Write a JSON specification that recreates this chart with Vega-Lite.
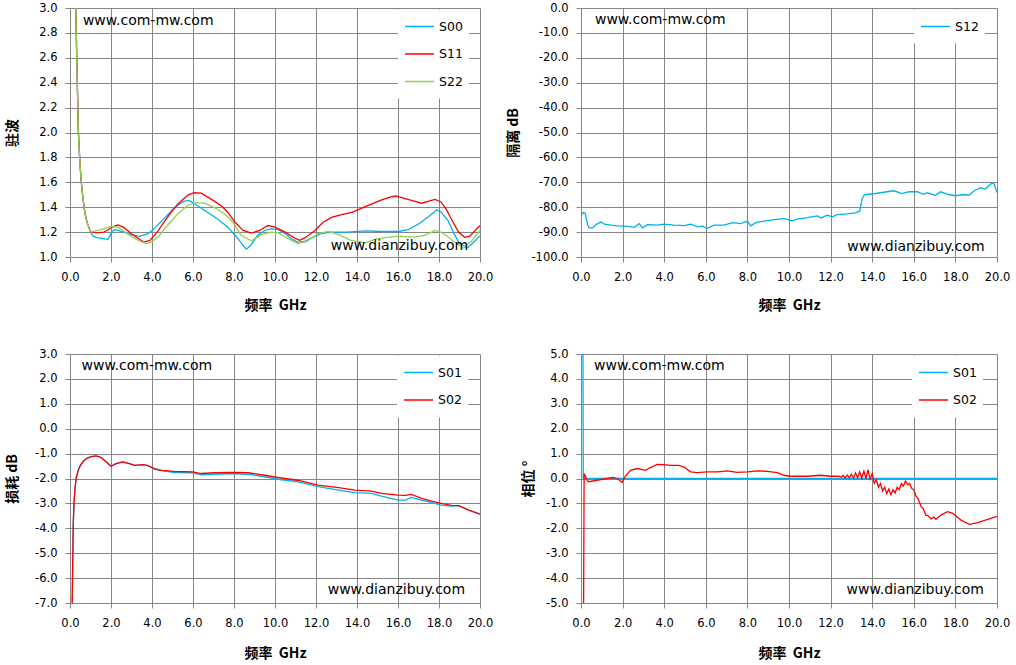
{
  "$schema": "https://vega.github.io/schema/vega-lite/v6.json",
  "background": "white",
  "padding": {"left": 5, "top": 2, "right": 5, "bottom": 5},
  "columns": 2,
  "spacing": {"row": 97, "column": 101},
  "bounds": "flush",
  "align": "each",
  "resolve": {"scale": {"color": "independent"}, "legend": {"color": "independent"}},
  "datasets": {
    "vswr": [
      {"f": 0.26, "v": 3.1, "s": "S00"}, {"f": 0.28, "v": 3.0, "s": "S00"}, {"f": 0.33, "v": 2.6, "s": "S00"}, {"f": 0.37, "v": 2.3, "s": "S00"},
      {"f": 0.41, "v": 2.0, "s": "S00"}, {"f": 0.47, "v": 1.8, "s": "S00"}, {"f": 0.54, "v": 1.62, "s": "S00"}, {"f": 0.62, "v": 1.49, "s": "S00"},
      {"f": 0.7, "v": 1.385, "s": "S00"}, {"f": 0.78, "v": 1.31, "s": "S00"}, {"f": 0.86, "v": 1.266, "s": "S00"}, {"f": 0.95, "v": 1.225, "s": "S00"},
      {"f": 1.03, "v": 1.19, "s": "S00"}, {"f": 1.15, "v": 1.165, "s": "S00"}, {"f": 1.3, "v": 1.155, "s": "S00"}, {"f": 1.5, "v": 1.152, "s": "S00"},
      {"f": 1.7, "v": 1.145, "s": "S00"}, {"f": 1.85, "v": 1.142, "s": "S00"}, {"f": 1.95, "v": 1.17, "s": "S00"}, {"f": 2.05, "v": 1.205, "s": "S00"},
      {"f": 2.2, "v": 1.22, "s": "S00"}, {"f": 2.5, "v": 1.205, "s": "S00"}, {"f": 3.0, "v": 1.18, "s": "S00"}, {"f": 3.4, "v": 1.166, "s": "S00"},
      {"f": 3.8, "v": 1.187, "s": "S00"}, {"f": 4.1, "v": 1.226, "s": "S00"}, {"f": 4.6, "v": 1.31, "s": "S00"}, {"f": 5.1, "v": 1.397, "s": "S00"},
      {"f": 5.55, "v": 1.447, "s": "S00"}, {"f": 5.8, "v": 1.455, "s": "S00"}, {"f": 6.25, "v": 1.41, "s": "S00"}, {"f": 6.7, "v": 1.36, "s": "S00"},
      {"f": 7.2, "v": 1.305, "s": "S00"}, {"f": 7.7, "v": 1.24, "s": "S00"}, {"f": 8.2, "v": 1.147, "s": "S00"}, {"f": 8.45, "v": 1.09, "s": "S00"},
      {"f": 8.6, "v": 1.063, "s": "S00"}, {"f": 8.8, "v": 1.09, "s": "S00"}, {"f": 9.15, "v": 1.174, "s": "S00"}, {"f": 9.5, "v": 1.213, "s": "S00"},
      {"f": 9.8, "v": 1.226, "s": "S00"}, {"f": 10.15, "v": 1.22, "s": "S00"}, {"f": 10.5, "v": 1.187, "s": "S00"}, {"f": 10.8, "v": 1.147, "s": "S00"},
      {"f": 11.1, "v": 1.12, "s": "S00"}, {"f": 11.45, "v": 1.126, "s": "S00"}, {"f": 11.8, "v": 1.153, "s": "S00"}, {"f": 12.25, "v": 1.187, "s": "S00"},
      {"f": 12.75, "v": 1.2, "s": "S00"}, {"f": 13.5, "v": 1.2, "s": "S00"}, {"f": 14.4, "v": 1.21, "s": "S00"}, {"f": 15.2, "v": 1.205, "s": "S00"},
      {"f": 16.0, "v": 1.205, "s": "S00"}, {"f": 16.5, "v": 1.22, "s": "S00"}, {"f": 17.0, "v": 1.265, "s": "S00"}, {"f": 17.5, "v": 1.326, "s": "S00"},
      {"f": 17.9, "v": 1.38, "s": "S00"}, {"f": 18.1, "v": 1.36, "s": "S00"}, {"f": 18.45, "v": 1.29, "s": "S00"}, {"f": 18.7, "v": 1.2, "s": "S00"},
      {"f": 18.95, "v": 1.12, "s": "S00"}, {"f": 19.2, "v": 1.09, "s": "S00"}, {"f": 19.4, "v": 1.075, "s": "S00"}, {"f": 19.7, "v": 1.12, "s": "S00"},
      {"f": 20.0, "v": 1.17, "s": "S00"},

      {"f": 0.26, "v": 3.1, "s": "S11"}, {"f": 0.28, "v": 3.0, "s": "S11"}, {"f": 0.33, "v": 2.6, "s": "S11"}, {"f": 0.37, "v": 2.3, "s": "S11"},
      {"f": 0.41, "v": 2.0, "s": "S11"}, {"f": 0.47, "v": 1.8, "s": "S11"}, {"f": 0.54, "v": 1.62, "s": "S11"}, {"f": 0.62, "v": 1.49, "s": "S11"},
      {"f": 0.7, "v": 1.385, "s": "S11"}, {"f": 0.78, "v": 1.31, "s": "S11"}, {"f": 0.86, "v": 1.266, "s": "S11"}, {"f": 0.95, "v": 1.225, "s": "S11"},
      {"f": 1.03, "v": 1.2, "s": "S11"}, {"f": 1.3, "v": 1.195, "s": "S11"}, {"f": 1.6, "v": 1.197, "s": "S11"}, {"f": 1.8, "v": 1.213, "s": "S11"},
      {"f": 2.0, "v": 1.235, "s": "S11"}, {"f": 2.2, "v": 1.25, "s": "S11"}, {"f": 2.35, "v": 1.258, "s": "S11"}, {"f": 2.6, "v": 1.24, "s": "S11"},
      {"f": 3.0, "v": 1.187, "s": "S11"}, {"f": 3.3, "v": 1.153, "s": "S11"}, {"f": 3.6, "v": 1.12, "s": "S11"}, {"f": 3.9, "v": 1.134, "s": "S11"},
      {"f": 4.25, "v": 1.2, "s": "S11"}, {"f": 4.75, "v": 1.318, "s": "S11"}, {"f": 5.25, "v": 1.424, "s": "S11"}, {"f": 5.75, "v": 1.497, "s": "S11"},
      {"f": 6.05, "v": 1.516, "s": "S11"}, {"f": 6.4, "v": 1.513, "s": "S11"}, {"f": 6.9, "v": 1.463, "s": "S11"}, {"f": 7.4, "v": 1.41, "s": "S11"},
      {"f": 7.7, "v": 1.358, "s": "S11"}, {"f": 8.05, "v": 1.279, "s": "S11"}, {"f": 8.45, "v": 1.213, "s": "S11"}, {"f": 8.85, "v": 1.192, "s": "S11"},
      {"f": 9.25, "v": 1.213, "s": "S11"}, {"f": 9.65, "v": 1.253, "s": "S11"}, {"f": 10.0, "v": 1.24, "s": "S11"}, {"f": 10.5, "v": 1.2, "s": "S11"},
      {"f": 10.95, "v": 1.153, "s": "S11"}, {"f": 11.2, "v": 1.134, "s": "S11"}, {"f": 11.45, "v": 1.153, "s": "S11"}, {"f": 11.95, "v": 1.213, "s": "S11"},
      {"f": 12.35, "v": 1.279, "s": "S11"}, {"f": 12.75, "v": 1.318, "s": "S11"}, {"f": 13.25, "v": 1.34, "s": "S11"}, {"f": 13.75, "v": 1.358, "s": "S11"},
      {"f": 14.2, "v": 1.39, "s": "S11"}, {"f": 14.7, "v": 1.424, "s": "S11"}, {"f": 15.2, "v": 1.458, "s": "S11"}, {"f": 15.7, "v": 1.484, "s": "S11"},
      {"f": 15.9, "v": 1.49, "s": "S11"}, {"f": 16.35, "v": 1.468, "s": "S11"}, {"f": 16.75, "v": 1.45, "s": "S11"}, {"f": 17.15, "v": 1.432, "s": "S11"},
      {"f": 17.55, "v": 1.45, "s": "S11"}, {"f": 17.8, "v": 1.463, "s": "S11"}, {"f": 18.1, "v": 1.442, "s": "S11"}, {"f": 18.35, "v": 1.384, "s": "S11"},
      {"f": 18.6, "v": 1.305, "s": "S11"}, {"f": 18.95, "v": 1.2, "s": "S11"}, {"f": 19.25, "v": 1.158, "s": "S11"}, {"f": 19.5, "v": 1.168, "s": "S11"},
      {"f": 20.0, "v": 1.253, "s": "S11"},

      {"f": 0.26, "v": 3.1, "s": "S22"}, {"f": 0.28, "v": 3.0, "s": "S22"}, {"f": 0.33, "v": 2.6, "s": "S22"}, {"f": 0.37, "v": 2.3, "s": "S22"},
      {"f": 0.41, "v": 2.0, "s": "S22"}, {"f": 0.47, "v": 1.8, "s": "S22"}, {"f": 0.54, "v": 1.62, "s": "S22"}, {"f": 0.62, "v": 1.49, "s": "S22"},
      {"f": 0.7, "v": 1.385, "s": "S22"}, {"f": 0.78, "v": 1.31, "s": "S22"}, {"f": 0.86, "v": 1.266, "s": "S22"}, {"f": 0.95, "v": 1.225, "s": "S22"},
      {"f": 1.03, "v": 1.2, "s": "S22"}, {"f": 1.5, "v": 1.22, "s": "S22"}, {"f": 2.0, "v": 1.245, "s": "S22"}, {"f": 2.35, "v": 1.24, "s": "S22"},
      {"f": 2.65, "v": 1.205, "s": "S22"}, {"f": 3.05, "v": 1.16, "s": "S22"}, {"f": 3.4, "v": 1.13, "s": "S22"}, {"f": 3.7, "v": 1.108, "s": "S22"},
      {"f": 3.95, "v": 1.12, "s": "S22"}, {"f": 4.3, "v": 1.16, "s": "S22"}, {"f": 4.75, "v": 1.253, "s": "S22"}, {"f": 5.25, "v": 1.345, "s": "S22"},
      {"f": 5.75, "v": 1.416, "s": "S22"}, {"f": 6.15, "v": 1.437, "s": "S22"}, {"f": 6.55, "v": 1.432, "s": "S22"}, {"f": 7.05, "v": 1.397, "s": "S22"},
      {"f": 7.55, "v": 1.345, "s": "S22"}, {"f": 7.95, "v": 1.279, "s": "S22"}, {"f": 8.35, "v": 1.174, "s": "S22"}, {"f": 8.85, "v": 1.13, "s": "S22"},
      {"f": 9.35, "v": 1.18, "s": "S22"}, {"f": 9.8, "v": 1.2, "s": "S22"}, {"f": 10.15, "v": 1.195, "s": "S22"}, {"f": 10.65, "v": 1.147, "s": "S22"},
      {"f": 11.1, "v": 1.108, "s": "S22"}, {"f": 11.55, "v": 1.126, "s": "S22"}, {"f": 12.1, "v": 1.187, "s": "S22"}, {"f": 12.6, "v": 1.205, "s": "S22"},
      {"f": 13.1, "v": 1.18, "s": "S22"}, {"f": 13.7, "v": 1.134, "s": "S22"}, {"f": 14.4, "v": 1.113, "s": "S22"}, {"f": 15.0, "v": 1.147, "s": "S22"},
      {"f": 16.0, "v": 1.168, "s": "S22"}, {"f": 16.8, "v": 1.16, "s": "S22"}, {"f": 17.3, "v": 1.174, "s": "S22"}, {"f": 17.8, "v": 1.213, "s": "S22"},
      {"f": 18.1, "v": 1.2, "s": "S22"}, {"f": 18.45, "v": 1.16, "s": "S22"}, {"f": 18.85, "v": 1.108, "s": "S22"}, {"f": 19.2, "v": 1.07, "s": "S22"},
      {"f": 19.6, "v": 1.13, "s": "S22"}, {"f": 20.0, "v": 1.213, "s": "S22"}
    ],
    "iso": [
      {"f": 0.0, "v": -83.2, "s": "S12"}, {"f": 0.13, "v": -82.1, "s": "S12"}, {"f": 0.2, "v": -82.5, "s": "S12"}, {"f": 0.32, "v": -87.2, "s": "S12"},
      {"f": 0.4, "v": -88.3, "s": "S12"}, {"f": 0.56, "v": -88.3, "s": "S12"}, {"f": 0.72, "v": -87.0, "s": "S12"}, {"f": 0.96, "v": -85.9, "s": "S12"},
      {"f": 1.12, "v": -86.8, "s": "S12"}, {"f": 1.44, "v": -87.2, "s": "S12"}, {"f": 1.76, "v": -87.5, "s": "S12"}, {"f": 2.24, "v": -87.7, "s": "S12"},
      {"f": 2.56, "v": -88.1, "s": "S12"}, {"f": 2.8, "v": -86.6, "s": "S12"}, {"f": 2.96, "v": -88.3, "s": "S12"}, {"f": 3.2, "v": -87.0, "s": "S12"},
      {"f": 3.68, "v": -87.2, "s": "S12"}, {"f": 4.0, "v": -86.8, "s": "S12"}, {"f": 4.48, "v": -87.2, "s": "S12"}, {"f": 4.96, "v": -87.4, "s": "S12"},
      {"f": 5.28, "v": -86.8, "s": "S12"}, {"f": 5.6, "v": -87.9, "s": "S12"}, {"f": 5.84, "v": -87.5, "s": "S12"}, {"f": 6.05, "v": -88.6, "s": "S12"},
      {"f": 6.4, "v": -87.2, "s": "S12"}, {"f": 6.88, "v": -87.2, "s": "S12"}, {"f": 7.28, "v": -86.2, "s": "S12"}, {"f": 7.68, "v": -86.6, "s": "S12"},
      {"f": 8.0, "v": -85.6, "s": "S12"}, {"f": 8.16, "v": -87.5, "s": "S12"}, {"f": 8.4, "v": -86.2, "s": "S12"}, {"f": 8.8, "v": -85.6, "s": "S12"},
      {"f": 9.28, "v": -85.0, "s": "S12"}, {"f": 9.76, "v": -84.6, "s": "S12"}, {"f": 10.16, "v": -85.5, "s": "S12"}, {"f": 10.4, "v": -84.8, "s": "S12"},
      {"f": 10.88, "v": -84.2, "s": "S12"}, {"f": 11.36, "v": -83.5, "s": "S12"}, {"f": 11.55, "v": -84.3, "s": "S12"}, {"f": 11.84, "v": -83.2, "s": "S12"},
      {"f": 12.08, "v": -83.9, "s": "S12"}, {"f": 12.32, "v": -83.0, "s": "S12"}, {"f": 12.8, "v": -82.7, "s": "S12"}, {"f": 13.2, "v": -82.3, "s": "S12"},
      {"f": 13.4, "v": -81.6, "s": "S12"}, {"f": 13.52, "v": -76.5, "s": "S12"}, {"f": 13.63, "v": -74.9, "s": "S12"}, {"f": 14.08, "v": -74.6, "s": "S12"},
      {"f": 14.56, "v": -74.0, "s": "S12"}, {"f": 15.04, "v": -73.4, "s": "S12"}, {"f": 15.44, "v": -74.5, "s": "S12"}, {"f": 15.76, "v": -73.8, "s": "S12"},
      {"f": 16.16, "v": -73.8, "s": "S12"}, {"f": 16.48, "v": -74.8, "s": "S12"}, {"f": 16.64, "v": -74.2, "s": "S12"}, {"f": 17.04, "v": -75.2, "s": "S12"},
      {"f": 17.28, "v": -73.8, "s": "S12"}, {"f": 17.68, "v": -74.9, "s": "S12"}, {"f": 18.0, "v": -75.4, "s": "S12"}, {"f": 18.4, "v": -74.9, "s": "S12"},
      {"f": 18.64, "v": -75.2, "s": "S12"}, {"f": 18.88, "v": -73.6, "s": "S12"}, {"f": 19.2, "v": -72.2, "s": "S12"}, {"f": 19.44, "v": -72.7, "s": "S12"},
      {"f": 19.76, "v": -70.3, "s": "S12"}, {"f": 19.87, "v": -70.8, "s": "S12"}, {"f": 20.0, "v": -74.1, "s": "S12"}
    ],
    "loss": [
      {"f": 0.1, "v": -7.6, "s": "S01"}, {"f": 0.13, "v": -5.5, "s": "S01"}, {"f": 0.16, "v": -3.8, "s": "S01"}, {"f": 0.2, "v": -2.9, "s": "S01"},
      {"f": 0.25, "v": -2.35, "s": "S01"}, {"f": 0.31, "v": -1.95, "s": "S01"}, {"f": 0.4, "v": -1.68, "s": "S01"}, {"f": 0.5, "v": -1.48, "s": "S01"},
      {"f": 0.6, "v": -1.36, "s": "S01"}, {"f": 0.7, "v": -1.27, "s": "S01"}, {"f": 0.85, "v": -1.18, "s": "S01"}, {"f": 1.03, "v": -1.12, "s": "S01"},
      {"f": 1.27, "v": -1.09, "s": "S01"}, {"f": 1.5, "v": -1.15, "s": "S01"}, {"f": 1.76, "v": -1.33, "s": "S01"}, {"f": 2.0, "v": -1.51, "s": "S01"},
      {"f": 2.25, "v": -1.4, "s": "S01"}, {"f": 2.57, "v": -1.33, "s": "S01"}, {"f": 2.9, "v": -1.4, "s": "S01"}, {"f": 3.15, "v": -1.47, "s": "S01"},
      {"f": 3.55, "v": -1.44, "s": "S01"}, {"f": 3.8, "v": -1.48, "s": "S01"}, {"f": 4.12, "v": -1.63, "s": "S01"}, {"f": 5.1, "v": -1.76, "s": "S01"},
      {"f": 6.0, "v": -1.77, "s": "S01"}, {"f": 6.4, "v": -1.85, "s": "S01"}, {"f": 7.05, "v": -1.83, "s": "S01"}, {"f": 8.0, "v": -1.8, "s": "S01"},
      {"f": 8.8, "v": -1.84, "s": "S01"}, {"f": 9.5, "v": -1.93, "s": "S01"}, {"f": 10.15, "v": -2.03, "s": "S01"}, {"f": 11.1, "v": -2.13, "s": "S01"},
      {"f": 12.1, "v": -2.33, "s": "S01"}, {"f": 13.1, "v": -2.47, "s": "S01"}, {"f": 13.9, "v": -2.57, "s": "S01"}, {"f": 14.7, "v": -2.6, "s": "S01"},
      {"f": 15.2, "v": -2.71, "s": "S01"}, {"f": 16.0, "v": -2.87, "s": "S01"}, {"f": 16.35, "v": -2.87, "s": "S01"}, {"f": 16.65, "v": -2.76, "s": "S01"},
      {"f": 17.15, "v": -2.87, "s": "S01"}, {"f": 17.65, "v": -2.97, "s": "S01"}, {"f": 18.1, "v": -3.07, "s": "S01"}, {"f": 18.6, "v": -3.11, "s": "S01"},
      {"f": 18.95, "v": -3.09, "s": "S01"}, {"f": 19.45, "v": -3.27, "s": "S01"}, {"f": 20.0, "v": -3.43, "s": "S01"},

      {"f": 0.1, "v": -7.6, "s": "S02"}, {"f": 0.13, "v": -5.5, "s": "S02"}, {"f": 0.16, "v": -3.8, "s": "S02"}, {"f": 0.2, "v": -2.9, "s": "S02"},
      {"f": 0.25, "v": -2.35, "s": "S02"}, {"f": 0.31, "v": -1.95, "s": "S02"}, {"f": 0.4, "v": -1.68, "s": "S02"}, {"f": 0.5, "v": -1.48, "s": "S02"},
      {"f": 0.6, "v": -1.36, "s": "S02"}, {"f": 0.7, "v": -1.27, "s": "S02"}, {"f": 0.85, "v": -1.18, "s": "S02"}, {"f": 1.03, "v": -1.12, "s": "S02"},
      {"f": 1.27, "v": -1.09, "s": "S02"}, {"f": 1.5, "v": -1.15, "s": "S02"}, {"f": 1.76, "v": -1.33, "s": "S02"}, {"f": 2.0, "v": -1.51, "s": "S02"},
      {"f": 2.25, "v": -1.4, "s": "S02"}, {"f": 2.57, "v": -1.33, "s": "S02"}, {"f": 2.9, "v": -1.4, "s": "S02"}, {"f": 3.15, "v": -1.47, "s": "S02"},
      {"f": 3.55, "v": -1.44, "s": "S02"}, {"f": 3.8, "v": -1.48, "s": "S02"}, {"f": 4.12, "v": -1.6, "s": "S02"}, {"f": 4.45, "v": -1.67, "s": "S02"},
      {"f": 5.1, "v": -1.71, "s": "S02"}, {"f": 6.0, "v": -1.73, "s": "S02"}, {"f": 6.4, "v": -1.8, "s": "S02"}, {"f": 7.05, "v": -1.77, "s": "S02"},
      {"f": 8.0, "v": -1.76, "s": "S02"}, {"f": 8.7, "v": -1.77, "s": "S02"}, {"f": 9.5, "v": -1.87, "s": "S02"}, {"f": 10.15, "v": -1.96, "s": "S02"},
      {"f": 11.1, "v": -2.07, "s": "S02"}, {"f": 12.1, "v": -2.27, "s": "S02"}, {"f": 13.1, "v": -2.37, "s": "S02"}, {"f": 13.9, "v": -2.47, "s": "S02"},
      {"f": 14.7, "v": -2.51, "s": "S02"}, {"f": 15.2, "v": -2.6, "s": "S02"}, {"f": 16.0, "v": -2.67, "s": "S02"}, {"f": 16.35, "v": -2.68, "s": "S02"},
      {"f": 16.65, "v": -2.64, "s": "S02"}, {"f": 17.15, "v": -2.8, "s": "S02"}, {"f": 17.65, "v": -2.91, "s": "S02"}, {"f": 18.1, "v": -3.0, "s": "S02"},
      {"f": 18.6, "v": -3.08, "s": "S02"}, {"f": 18.95, "v": -3.09, "s": "S02"}, {"f": 19.45, "v": -3.27, "s": "S02"}, {"f": 20.0, "v": -3.43, "s": "S02"}
    ],
    "phase": [
      {"f": 0.09, "v": 6.0, "s": "S01"}, {"f": 0.11, "v": 0.0, "s": "S01"}, {"f": 20.0, "v": 0.0, "s": "S01"},

      {"f": 0.12, "v": -6.0, "s": "S02"}, {"f": 0.15, "v": 0.2, "s": "S02"}, {"f": 0.2, "v": 0.12, "s": "S02"}, {"f": 0.29, "v": -0.07, "s": "S02"},
      {"f": 0.37, "v": -0.13, "s": "S02"}, {"f": 0.77, "v": -0.07, "s": "S02"}, {"f": 1.25, "v": 0.0, "s": "S02"}, {"f": 1.57, "v": 0.04, "s": "S02"},
      {"f": 1.8, "v": -0.03, "s": "S02"}, {"f": 1.97, "v": -0.16, "s": "S02"}, {"f": 2.13, "v": 0.09, "s": "S02"}, {"f": 2.38, "v": 0.33, "s": "S02"},
      {"f": 2.7, "v": 0.4, "s": "S02"}, {"f": 3.1, "v": 0.33, "s": "S02"}, {"f": 3.34, "v": 0.44, "s": "S02"}, {"f": 3.66, "v": 0.57, "s": "S02"},
      {"f": 3.97, "v": 0.56, "s": "S02"}, {"f": 4.3, "v": 0.53, "s": "S02"}, {"f": 4.7, "v": 0.53, "s": "S02"}, {"f": 4.94, "v": 0.47, "s": "S02"},
      {"f": 5.26, "v": 0.27, "s": "S02"}, {"f": 5.59, "v": 0.24, "s": "S02"}, {"f": 6.07, "v": 0.27, "s": "S02"}, {"f": 6.55, "v": 0.27, "s": "S02"},
      {"f": 7.03, "v": 0.31, "s": "S02"}, {"f": 7.51, "v": 0.25, "s": "S02"}, {"f": 8.0, "v": 0.27, "s": "S02"}, {"f": 8.48, "v": 0.31, "s": "S02"},
      {"f": 8.96, "v": 0.29, "s": "S02"}, {"f": 9.44, "v": 0.24, "s": "S02"}, {"f": 9.76, "v": 0.13, "s": "S02"}, {"f": 10.07, "v": 0.09, "s": "S02"},
      {"f": 10.88, "v": 0.09, "s": "S02"}, {"f": 11.52, "v": 0.13, "s": "S02"}, {"f": 12.0, "v": 0.09, "s": "S02"}, {"f": 12.4, "v": 0.09, "s": "S02"},
      {"f": 12.5, "v": 0.05, "s": "S02"}, {"f": 12.6, "v": 0.12, "s": "S02"}, {"f": 12.7, "v": 0.02, "s": "S02"}, {"f": 12.8, "v": 0.14, "s": "S02"},
      {"f": 12.9, "v": 0.03, "s": "S02"}, {"f": 13.0, "v": 0.18, "s": "S02"}, {"f": 13.1, "v": 0.02, "s": "S02"}, {"f": 13.2, "v": 0.22, "s": "S02"},
      {"f": 13.3, "v": 0.03, "s": "S02"}, {"f": 13.4, "v": 0.27, "s": "S02"}, {"f": 13.5, "v": 0.02, "s": "S02"}, {"f": 13.6, "v": 0.3, "s": "S02"},
      {"f": 13.7, "v": 0.0, "s": "S02"}, {"f": 13.8, "v": 0.36, "s": "S02"}, {"f": 13.9, "v": -0.02, "s": "S02"}, {"f": 14.0, "v": 0.2, "s": "S02"},
      {"f": 14.1, "v": -0.2, "s": "S02"}, {"f": 14.2, "v": -0.05, "s": "S02"}, {"f": 14.3, "v": -0.35, "s": "S02"}, {"f": 14.4, "v": -0.2, "s": "S02"},
      {"f": 14.5, "v": -0.5, "s": "S02"}, {"f": 14.6, "v": -0.35, "s": "S02"}, {"f": 14.7, "v": -0.6, "s": "S02"}, {"f": 14.8, "v": -0.42, "s": "S02"},
      {"f": 14.9, "v": -0.65, "s": "S02"}, {"f": 15.0, "v": -0.45, "s": "S02"}, {"f": 15.1, "v": -0.58, "s": "S02"}, {"f": 15.2, "v": -0.35, "s": "S02"},
      {"f": 15.3, "v": -0.45, "s": "S02"}, {"f": 15.4, "v": -0.2, "s": "S02"}, {"f": 15.5, "v": -0.3, "s": "S02"}, {"f": 15.6, "v": -0.1, "s": "S02"},
      {"f": 15.7, "v": -0.25, "s": "S02"}, {"f": 15.8, "v": -0.2, "s": "S02"}, {"f": 15.9, "v": -0.4, "s": "S02"}, {"f": 16.0, "v": -0.45, "s": "S02"},
      {"f": 16.1, "v": -0.7, "s": "S02"}, {"f": 16.2, "v": -0.8, "s": "S02"}, {"f": 16.35, "v": -1.13, "s": "S02"}, {"f": 16.45, "v": -1.2, "s": "S02"},
      {"f": 16.58, "v": -1.47, "s": "S02"}, {"f": 16.7, "v": -1.5, "s": "S02"}, {"f": 16.82, "v": -1.62, "s": "S02"}, {"f": 16.95, "v": -1.55, "s": "S02"},
      {"f": 17.07, "v": -1.64, "s": "S02"}, {"f": 17.3, "v": -1.47, "s": "S02"}, {"f": 17.62, "v": -1.33, "s": "S02"}, {"f": 17.87, "v": -1.4, "s": "S02"},
      {"f": 18.27, "v": -1.67, "s": "S02"}, {"f": 18.67, "v": -1.84, "s": "S02"}, {"f": 19.07, "v": -1.77, "s": "S02"}, {"f": 19.55, "v": -1.64, "s": "S02"},
      {"f": 20.0, "v": -1.52, "s": "S02"}
    ],
    "one": [{"id": 1}]
  },
  "concat": [
    {
      "width": 410,
      "height": 249,
      "layer": [
        {
          "data": {"name": "vswr"},
          "mark": {"type": "line", "clip": true, "strokeWidth": 1.3},
          "encoding": {
            "x": {"field": "f", "type": "quantitative", "title": "频率\u00a0\u00a0GHz", "scale": {"domain": [0, 20], "nice": false}, "axis": {"values": [0, 2, 4, 6, 8, 10, 12, 14, 16, 18, 20], "tickCount": 11, "titlePadding": 16}},
            "y": {"field": "v", "type": "quantitative", "title": "驻波", "scale": {"domain": [1, 3], "nice": false, "zero": false}, "axis": {"values": [1, 1.2, 1.4, 1.6, 1.8, 2, 2.2, 2.4, 2.6, 2.8, 3], "tickCount": 11, "titleX": -51}},
            "color": {"field": "s", "type": "nominal", "scale": {"domain": ["S00", "S11", "S22"], "range": ["#00B0F0", "#FF0000", "#92D050"]}, "legend": {"title": null, "orient": "none", "legendX": 328, "legendY": 1.5}}
          }
        },
        {
          "data": {"name": "one"},
          "mark": {"type": "text", "align": "left", "baseline": "middle", "font": "DejaVu Sans", "fontSize": 14, "color": "#000000"},
          "encoding": {"x": {"datum": 0.63, "type": "quantitative"}, "y": {"datum": 2.893, "type": "quantitative"}, "text": {"value": "www.com-mw.com"}}
        },
        {
          "data": {"name": "one"},
          "mark": {"type": "text", "align": "left", "baseline": "middle", "font": "DejaVu Sans", "fontSize": 14, "color": "#000000"},
          "encoding": {"x": {"datum": 12.72, "type": "quantitative"}, "y": {"datum": 1.088, "type": "quantitative"}, "text": {"value": "www.dianzibuy.com"}}
        }
      ]
    },
    {
      "width": 416,
      "height": 249,
      "layer": [
        {
          "data": {"name": "iso"},
          "mark": {"type": "line", "clip": true, "strokeWidth": 1.3},
          "encoding": {
            "x": {"field": "f", "type": "quantitative", "title": "频率\u00a0\u00a0GHz", "scale": {"domain": [0, 20], "nice": false}, "axis": {"values": [0, 2, 4, 6, 8, 10, 12, 14, 16, 18, 20], "tickCount": 11, "titlePadding": 16}},
            "y": {"field": "v", "type": "quantitative", "title": "隔离 dB", "scale": {"domain": [-100, 0], "nice": false}, "axis": {"values": [-100, -90, -80, -70, -60, -50, -40, -30, -20, -10, 0], "tickCount": 11, "titleX": -61}},
            "color": {"field": "s", "type": "nominal", "scale": {"domain": ["S12"], "range": ["#00B0F0"]}, "legend": {"title": null, "orient": "none", "legendX": 333, "legendY": 1.5}}
          }
        },
        {
          "data": {"name": "one"},
          "mark": {"type": "text", "align": "left", "baseline": "middle", "font": "DejaVu Sans", "fontSize": 14, "color": "#000000"},
          "encoding": {"x": {"datum": 0.67, "type": "quantitative"}, "y": {"datum": -4.95, "type": "quantitative"}, "text": {"value": "www.com-mw.com"}}
        },
        {
          "data": {"name": "one"},
          "mark": {"type": "text", "align": "left", "baseline": "middle", "font": "DejaVu Sans", "fontSize": 14, "color": "#000000"},
          "encoding": {"x": {"datum": 12.8, "type": "quantitative"}, "y": {"datum": -96.0, "type": "quantitative"}, "text": {"value": "www.dianzibuy.com"}}
        }
      ]
    },
    {
      "width": 410,
      "height": 249,
      "layer": [
        {
          "data": {"name": "loss"},
          "mark": {"type": "line", "clip": true, "strokeWidth": 1.3},
          "encoding": {
            "x": {"field": "f", "type": "quantitative", "title": "频率\u00a0\u00a0GHz", "scale": {"domain": [0, 20], "nice": false}, "axis": {"values": [0, 2, 4, 6, 8, 10, 12, 14, 16, 18, 20], "tickCount": 11, "titlePadding": 18}},
            "y": {"field": "v", "type": "quantitative", "title": "损耗 dB", "scale": {"domain": [-7, 3], "nice": false}, "axis": {"values": [-7, -6, -5, -4, -3, -2, -1, 0, 1, 2, 3], "tickCount": 11, "titleX": -51}},
            "color": {"field": "s", "type": "nominal", "scale": {"domain": ["S01", "S02"], "range": ["#00B0F0", "#FF0000"]}, "legend": {"title": null, "orient": "none", "legendX": 327, "legendY": 1.5}}
          }
        },
        {
          "data": {"name": "one"},
          "mark": {"type": "text", "align": "left", "baseline": "middle", "font": "DejaVu Sans", "fontSize": 14, "color": "#000000"},
          "encoding": {"x": {"datum": 0.56, "type": "quantitative"}, "y": {"datum": 2.53, "type": "quantitative"}, "text": {"value": "www.com-mw.com"}}
        },
        {
          "data": {"name": "one"},
          "mark": {"type": "text", "align": "left", "baseline": "middle", "font": "DejaVu Sans", "fontSize": 14, "color": "#000000"},
          "encoding": {"x": {"datum": 12.57, "type": "quantitative"}, "y": {"datum": -6.47, "type": "quantitative"}, "text": {"value": "www.dianzibuy.com"}}
        }
      ]
    },
    {
      "width": 416,
      "height": 249,
      "layer": [
        {
          "data": {"name": "phase"},
          "mark": {"type": "line", "clip": true, "strokeWidth": 1.3},
          "encoding": {
            "x": {"field": "f", "type": "quantitative", "title": "频率\u00a0\u00a0GHz", "scale": {"domain": [0, 20], "nice": false}, "axis": {"values": [0, 2, 4, 6, 8, 10, 12, 14, 16, 18, 20], "tickCount": 11, "titlePadding": 18}},
            "y": {"field": "v", "type": "quantitative", "title": "相位 °", "scale": {"domain": [-5, 5], "nice": false}, "axis": {"values": [-5, -4, -3, -2, -1, 0, 1, 2, 3, 4, 5], "tickCount": 11, "titleX": -46}},
            "color": {"field": "s", "type": "nominal", "scale": {"domain": ["S01", "S02"], "range": ["#00B0F0", "#FF0000"]}, "legend": {"title": null, "orient": "none", "legendX": 331, "legendY": 1.5}}
          }
        },
        {
          "data": {"name": "one"},
          "mark": {"type": "text", "align": "left", "baseline": "middle", "font": "DejaVu Sans", "fontSize": 14, "color": "#000000"},
          "encoding": {"x": {"datum": 0.63, "type": "quantitative"}, "y": {"datum": 4.5, "type": "quantitative"}, "text": {"value": "www.com-mw.com"}}
        },
        {
          "data": {"name": "one"},
          "mark": {"type": "text", "align": "left", "baseline": "middle", "font": "DejaVu Sans", "fontSize": 14, "color": "#000000"},
          "encoding": {"x": {"datum": 12.77, "type": "quantitative"}, "y": {"datum": -4.47, "type": "quantitative"}, "text": {"value": "www.dianzibuy.com"}}
        }
      ]
    }
  ],
  "config": {
    "locale": {"number": {"decimal": ".", "thousands": ",", "grouping": [3], "currency": ["$", ""], "minus": "-"}},
    "view": {"stroke": null},
    "axis": {
      "format": ".1f",
      "grid": true,
      "gridColor": "#868686",
      "gridOpacity": 1,
      "gridWidth": 1,
      "domainColor": "#868686",
      "tickColor": "#868686",
      "tickSize": 5,
      "labelFont": "DejaVu Sans",
      "labelFontSize": 11.5,
      "labelColor": "#000000",
      "labelFlush": false,
      "labelOverlap": false,
      "titleFont": "Noto Sans CJK SC",
      "titleFontWeight": "bold",
      "titleFontSize": 14,
      "titleColor": "#000000"
    },
    "axisX": {"labelPadding": 9},
    "axisY": {"labelPadding": 8},
    "legend": {
      "symbolType": "stroke",
      "symbolSize": 841,
      "symbolStrokeWidth": 1.3,
      "labelFont": "DejaVu Sans",
      "labelFontSize": 12.5,
      "labelColor": "#000000",
      "labelOffset": 4,
      "fillColor": "white",
      "padding": 6,
      "clipHeight": 22,
      "rowPadding": 5.5
    }
  }
}
